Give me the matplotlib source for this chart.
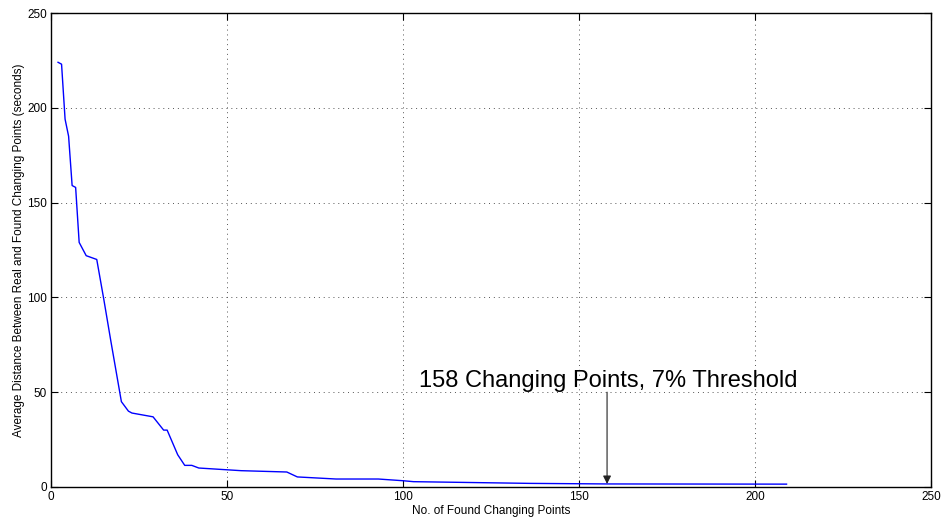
import matplotlib
matplotlib.use("Agg")
import matplotlib.pyplot as plt

# Data
n_found = [2, 3, 4, 5, 6, 7, 8, 10, 13, 15, 17, 20, 22, 23, 29, 32, 33, 36, 38, 40, 42,
           54, 67, 70, 81, 93, 100, 103, 136, 158, 209]
avg_dist = [224, 223, 194, 185, 159, 158, 129, 122, 120, 99, 77, 45, 40, 39, 37, 30, 30,
            17, 11.4, 11.4, 10, 8.6, 7.9, 5.3, 4.2, 4.2, 3.3, 2.8, 1.9, 1.6, 1.5]
x_ticks = [0, 50, 100, 150, 200, 250]
y_ticks = [0, 50, 100, 150, 200, 250]
annot_text = "158 Changing Points, 7% Threshold"
annot_x = 158
annot_tip_y = 1.6
annot_text_xy = (104.5, 52.5)

plt.rcParams['font.family'] = ['Liberation Sans', 'DejaVu Sans']

fig = plt.figure(figsize=(9.41, 5.2), dpi=100)
ax = fig.add_axes([0.0542, 0.0635, 0.935, 0.9115])

ax.plot(n_found, avg_dist, color=(0, 0, 1), linewidth=1.0)

ax.set_xlim(0, 250)
ax.set_ylim(0, 250)
ax.set_xticks(x_ticks)
ax.set_yticks(y_ticks)
ax.tick_params(direction='in', length=5, width=0.8, labelsize=8.5,
               top=True, right=True, pad=3)
for s in ax.spines.values():
    s.set_linewidth(1.0)
ax.grid(True, linestyle=(0, (1, 4)), color='#555555', linewidth=0.7)

ax.set_xlabel("No. of Found Changing Points", fontsize=8.5, labelpad=1)
ax.set_ylabel("Average Distance Between Real and Found Changing Points (seconds)",
              fontsize=8.5, labelpad=1.5)

ax.annotate("", xy=(annot_x, annot_tip_y), xytext=(annot_x, 50),
            arrowprops=dict(arrowstyle='-|>', color='#222222', lw=0.8,
                            mutation_scale=12, shrinkA=0, shrinkB=0))
ax.text(annot_text_xy[0], annot_text_xy[1], annot_text, fontsize=17,
        ha='left', va='baseline')

fig.savefig("out.png", dpi=100)
